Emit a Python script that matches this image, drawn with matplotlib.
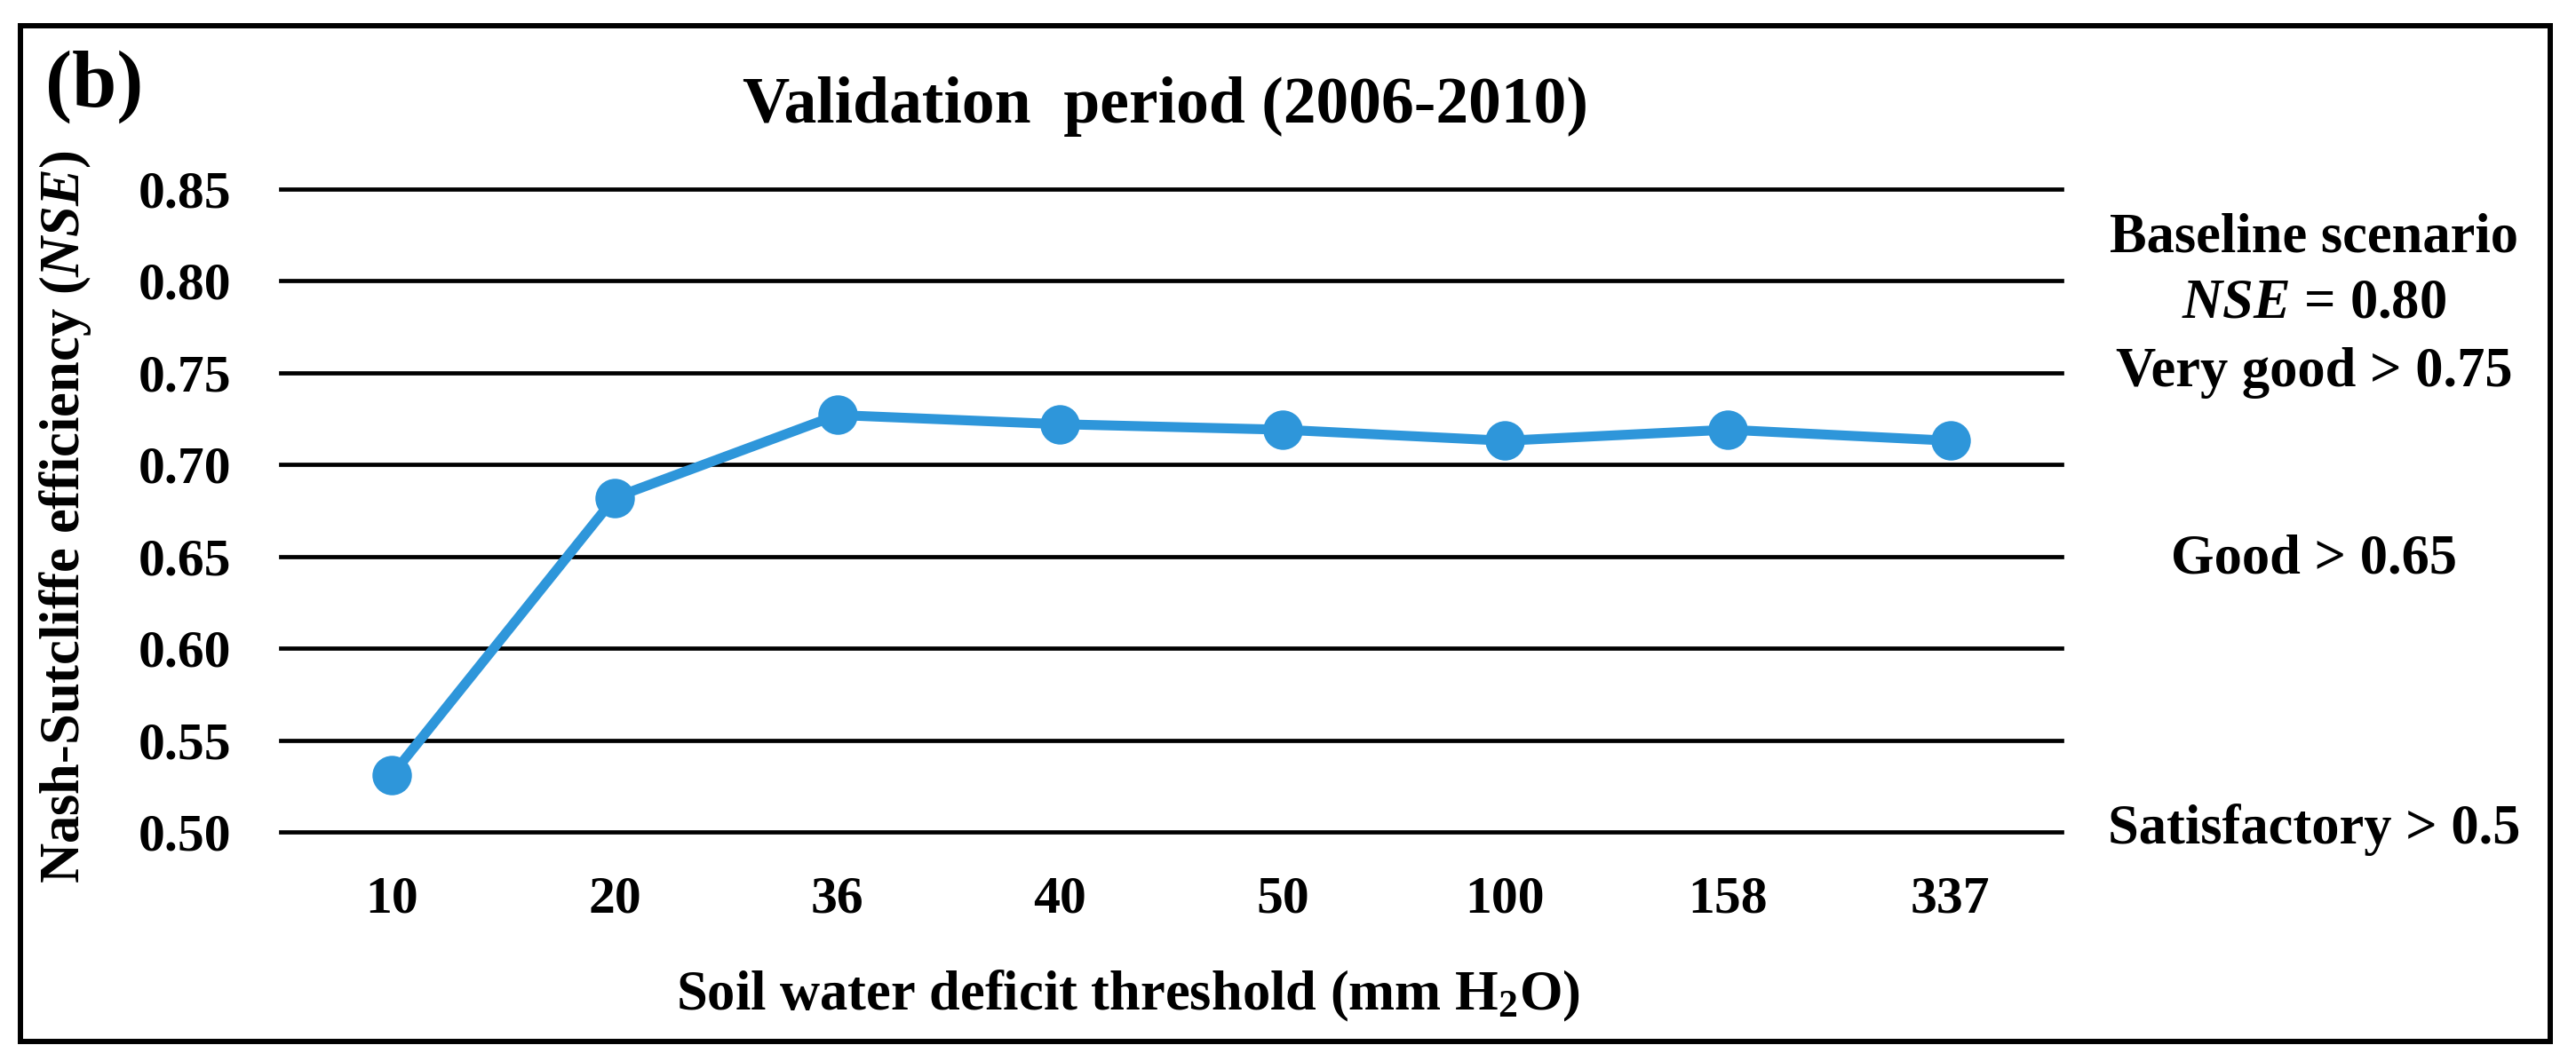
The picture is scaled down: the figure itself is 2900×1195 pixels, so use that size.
import matplotlib
matplotlib.use("Agg")
import matplotlib.pyplot as plt
from matplotlib.patches import Rectangle

categories = ["10", "20", "36", "40", "50", "100", "158", "337"]
nse_values = [0.531, 0.682, 0.727, 0.722, 0.719, 0.713, 0.719, 0.713]
y_ticks = [0.50, 0.55, 0.60, 0.65, 0.70, 0.75, 0.80, 0.85]

plt.rcParams['font.family'] = ['Liberation Serif', 'DejaVu Serif']
plt.rcParams['font.weight'] = 'bold'
plt.rcParams['mathtext.fontset'] = 'custom'
plt.rcParams['mathtext.rm'] = 'Liberation Serif:bold'
plt.rcParams['mathtext.bf'] = 'Liberation Serif:bold'
plt.rcParams['mathtext.it'] = 'Liberation Serif:italic'
plt.rcParams['mathtext.bfit'] = 'Liberation Serif:bold:italic'

W, H = 2900, 1195
fig = plt.figure(figsize=(W / 100, H / 100), dpi=100)
fig.patch.set_facecolor('white')

ax = fig.add_axes([316 / W, 1 - 937 / H, (2321 - 316) / W, (937 - 213) / H])
x = list(range(len(categories)))
ax.plot(x, nse_values, color='#2E96DA', lw=8, marker='o', markersize=32,
        markeredgewidth=0, solid_joinstyle='round', zorder=3, clip_on=False)

ax.set_xlim(-0.5, len(categories) - 0.5)
ax.set_ylim(0.50, 0.85)
ax.set_yticks(y_ticks)
ax.set_yticklabels([f"{v:.2f}" for v in y_ticks])
ax.set_xticks(x)
ax.set_xticklabels(categories)
for yv in y_ticks:
    ax.axhline(yv, color='black', lw=3.4, zorder=1, clip_on=False)
for s in ax.spines.values():
    s.set_visible(False)
ax.tick_params(axis='both', length=0, labelsize=43)
ax.tick_params(axis='y', pad=40)
ax.tick_params(axis='x', pad=36)
for lab in ax.get_xticklabels() + ax.get_yticklabels():
    lab.set_fontweight('bold')

fig.text(1312 / W, 1 - 120 / H, "Validation  period (2006-2010)", fontsize=53,
         fontweight='bold', ha='center', va='center')
fig.text(51 / W, 1 - 98 / H, "(b)", fontsize=65, fontweight='bold',
         ha='left', va='center')
fig.text(74 / W, 1 - 582 / H, r"Nash-Sutcliffe efficiency ($\mathbfit{NSE}$)",
         fontsize=45, fontweight='bold', rotation=90, ha='center', va='center')
fig.text(1270 / W, 1 - 1122 / H, r"Soil water deficit threshold (mm H$_2$O)",
         fontsize=45, fontweight='bold', ha='center', va='center')

right_x = 2605 / W
fig.text(right_x, 1 - 269 / H, "Baseline scenario", fontsize=45, fontweight='bold', ha='center', va='center')
fig.text(right_x, 1 - 343 / H, r"$\mathit{NSE}$ = 0.80", fontsize=45, fontweight='bold', ha='center', va='center')
fig.text(right_x, 1 - 420 / H, "Very good > 0.75", fontsize=45, fontweight='bold', ha='center', va='center')
fig.text(right_x, 1 - 631 / H, "Good > 0.65", fontsize=45, fontweight='bold', ha='center', va='center')
fig.text(right_x, 1 - 935 / H, "Satisfactory > 0.5", fontsize=45, fontweight='bold', ha='center', va='center')

fig.patches.append(Rectangle((23 / W, 1 - 1173 / H), (2871 - 23) / W, (1173 - 29) / H,
                             transform=fig.transFigure, fill=False,
                             edgecolor='black', lw=4.3, zorder=10))

fig.savefig("out.png", dpi=100, facecolor='white')
